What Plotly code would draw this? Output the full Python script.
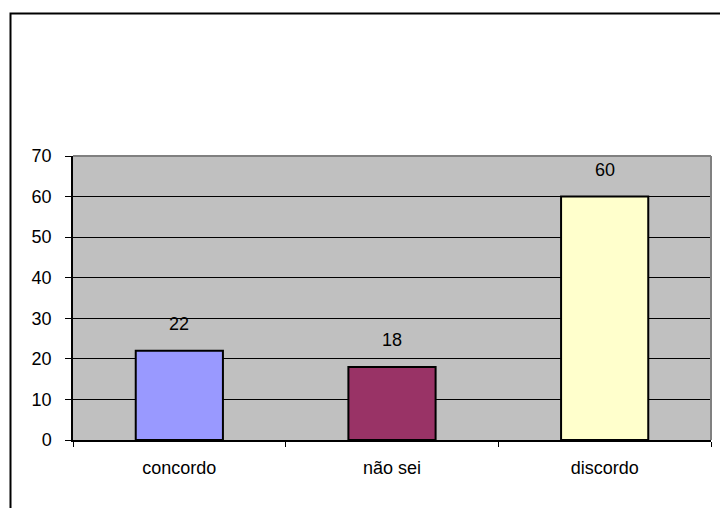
import plotly.graph_objects as go

categories = ["concordo", "não sei", "discordo"]
values = [22, 18, 60]
bar_colors = ["#9999FF", "#993366", "#FFFFCC"]
y_ticks = [0, 10, 20, 30, 40, 50, 60, 70]

W, H = 720, 508
L, R, T, B = 73, 9, 156, 68
pw, ph = W - L - R, H - T - B

font = dict(family="Liberation Sans, Arial, sans-serif", size=18, color="black")

fig = go.Figure()
fig.add_trace(go.Bar(
    x=categories, y=values,
    marker=dict(color=bar_colors, line=dict(color="black", width=2)),
    hoverinfo="skip",
))

for c, v in zip(categories, values):
    fig.add_annotation(x=c, y=v, text=str(v), showarrow=False,
                       yshift=27, yanchor="middle", font=font)

def px_x(p):
    return (p - L) / pw

def px_y(p):
    return (H - B - p) / ph

shapes = [
    # outer frame (right/bottom edges outside the visible page)
    dict(type="rect", xref="paper", yref="paper",
         x0=px_x(10.5), x1=px_x(730), y0=px_y(13.5), y1=px_y(520),
         line=dict(color="black", width=2), layer="above"),
    # gray top / right plot border
    dict(type="line", xref="paper", yref="paper", x0=0, x1=1, y0=1, y1=1,
         line=dict(color="#808080", width=2), layer="above"),
    dict(type="line", xref="paper", yref="paper", x0=1, x1=1, y0=0, y1=1,
         line=dict(color="#808080", width=2), layer="above"),
]

fig.update_layout(
    width=W, height=H,
    margin=dict(l=L, r=R, t=T, b=B, pad=0),
    paper_bgcolor="white", plot_bgcolor="#C0C0C0",
    showlegend=False, bargap=0.59,
    font=font, shapes=shapes,
)
fig.update_xaxes(
    type="category", showline=True, linecolor="black", linewidth=1.5,
    ticks="outside", tickson="boundaries", ticklen=5, tickcolor="black",
    tickwidth=1.2, showgrid=False, ticklabelstandoff=11, tickfont=font,
)
fig.update_yaxes(
    range=[0, 70], tickvals=y_ticks, showline=True, linecolor="black",
    linewidth=1.5, ticks="outside", ticklen=6, tickcolor="black", tickwidth=1.2,
    showgrid=True, gridcolor="black", gridwidth=1.4, zeroline=False,
    ticklabelstandoff=10, tickfont=font,
)

fig.write_html(
    "out.html",
    config={"displayModeBar": False},
    post_script="document.body.style.margin='0';document.body.style.overflow='hidden';",
)
